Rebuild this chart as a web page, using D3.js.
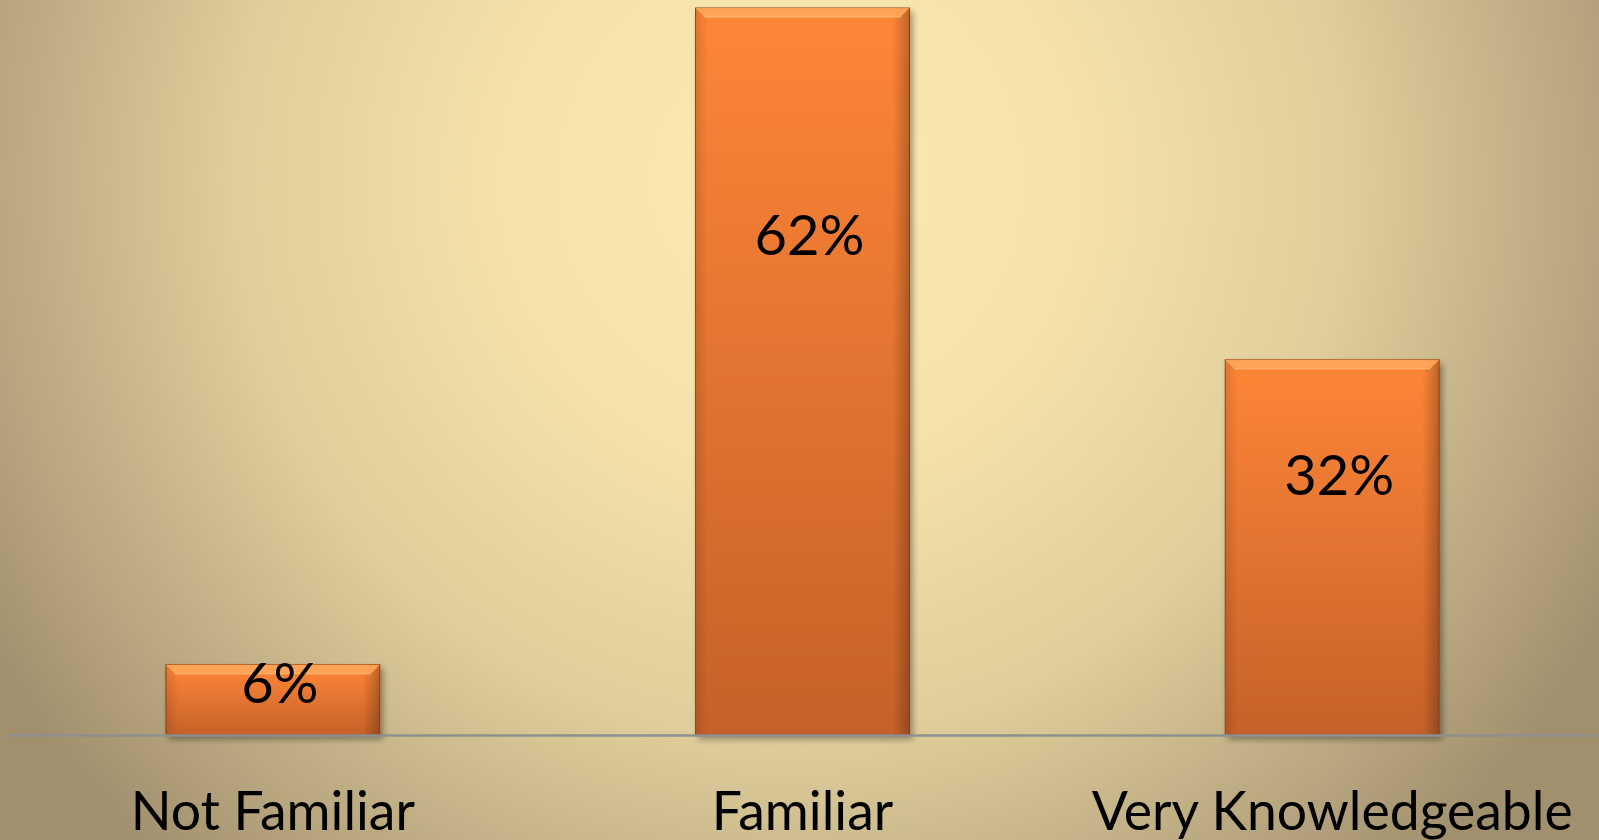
<!DOCTYPE html>
<html>
<head>
<meta charset="utf-8">
<script src="https://cdn.jsdelivr.net/npm/d3@7"></script>
<style>
  html, body { margin: 0; padding: 0; overflow: hidden; }
  svg { display: block; }
  text { font-family: Lato, "Open Sans", sans-serif; fill: #000; }
</style>
</head>
<body>
<div id="chart"></div>
<script>
// data
const categories = ["Not Familiar", "Familiar", "Very Knowledgeable"];
const values = [6, 62, 32];
const valueLabels = ["6%", "62%", "32%"];

const width = 1599, height = 840;
const margin = {top: 8, right: 2, bottom: 105, left: 8};
const baseY = height - margin.bottom;

const svg = d3.select("#chart").append("svg")
  .attr("width", width)
  .attr("height", height);

const defs = svg.append("defs");

// background glow
const bg = defs.append("radialGradient")
  .attr("id", "bg")
  .attr("gradientUnits", "userSpaceOnUse")
  .attr("cx", 790).attr("cy", 180).attr("r", 930);
[[0, "#fbe9b1"], [0.3, "#f6e3ab"], [0.6, "#dfcd9b"], [0.82, "#bdac83"], [1, "#a1906e"]]
  .forEach(function(s) { bg.append("stop").attr("offset", s[0]).attr("stop-color", s[1]); });

const barGrad = defs.append("linearGradient")
  .attr("id", "barGrad").attr("x1", 0).attr("y1", 0).attr("x2", 0).attr("y2", 1);
barGrad.append("stop").attr("offset", 0).attr("stop-color", "#fe8636");
barGrad.append("stop").attr("offset", 1).attr("stop-color", "#c6612a");

const sideGrad = defs.append("linearGradient")
  .attr("id", "sideGrad").attr("x1", 0).attr("y1", 0).attr("x2", 1).attr("y2", 0);
sideGrad.append("stop").attr("offset", 0).attr("stop-color", "#000").attr("stop-opacity", 0.12);
sideGrad.append("stop").attr("offset", 0.06).attr("stop-color", "#000").attr("stop-opacity", 0);
sideGrad.append("stop").attr("offset", 0.92).attr("stop-color", "#000").attr("stop-opacity", 0);
sideGrad.append("stop").attr("offset", 1).attr("stop-color", "#000").attr("stop-opacity", 0.25);

const shadow = defs.append("filter").attr("id", "shadow")
  .attr("x", "-10%").attr("y", "-10%").attr("width", "130%").attr("height", "130%");
shadow.append("feDropShadow")
  .attr("dx", 3).attr("dy", 4).attr("stdDeviation", 3)
  .attr("flood-color", "#000").attr("flood-opacity", 0.35);

svg.append("rect")
  .attr("width", width).attr("height", height)
  .attr("fill", "url(#bg)");

// scales
const x = d3.scaleBand()
  .domain(categories)
  .range([margin.left, width - margin.right])
  .paddingInner(0.596)
  .paddingOuter(0.298);

const y = d3.scaleLinear()
  .domain([0, 62])
  .range([baseY, margin.top]);

const bars = svg.append("g").selectAll("g")
  .data(categories)
  .enter().append("g")
  .attr("filter", "url(#shadow)");

bars.append("rect")
  .attr("x", d => x(d))
  .attr("y", (d, i) => y(values[i]))
  .attr("width", x.bandwidth())
  .attr("height", (d, i) => baseY - y(values[i]))
  .attr("fill", "url(#barGrad)")
  .attr("stroke", "#9a4a17")
  .attr("stroke-width", 1);

bars.append("rect")
  .attr("x", d => x(d))
  .attr("y", (d, i) => y(values[i]))
  .attr("width", x.bandwidth())
  .attr("height", (d, i) => baseY - y(values[i]))
  .attr("fill", "url(#sideGrad)");

// top bevel
bars.append("path")
  .attr("d", function(d, i) {
    const x0 = x(d), x1 = x(d) + x.bandwidth(), t = y(values[i]);
    return "M" + x0 + "," + t + "L" + x1 + "," + t + "L" + (x1 - 9) + "," + (t + 9) +
      "L" + (x0 + 9) + "," + (t + 9) + "Z";
  })
  .attr("fill", "#ffa95c")
  .attr("opacity", 0.85);

bars.append("line")
  .attr("x1", d => x(d) + 9)
  .attr("x2", d => x(d) + x.bandwidth() - 9)
  .attr("y1", (d, i) => y(values[i]) + 9)
  .attr("y2", (d, i) => y(values[i]) + 9)
  .attr("stroke", "#ffc07a")
  .attr("stroke-width", 1.5)
  .attr("opacity", 0.6);

// axis
const axis = svg.append("g")
  .attr("transform", "translate(0," + baseY + ")")
  .call(d3.axisBottom(x).tickSize(0).tickPadding(57));
axis.select(".domain")
  .attr("stroke", "#8f8f8f")
  .attr("stroke-width", 2.5);
axis.selectAll(".tick text")
  .attr("font-size", 53.5)
  .attr("font-family", "Lato, 'Open Sans', sans-serif")
  .attr("fill", "#000")
  .attr("dy", "0.71em");

// value labels
svg.append("g").selectAll("text")
  .data(categories)
  .enter().append("text")
  .attr("x", d => x(d) + x.bandwidth() / 2 + 7)
  .attr("y", (d, i) => {
    const t = y(values[i]);
    return t + 0.318 * (baseY - t) + 16;
  })
  .attr("text-anchor", "middle")
  .attr("font-size", 56)
  .text((d, i) => valueLabels[i]);
</script>
</body>
</html>
